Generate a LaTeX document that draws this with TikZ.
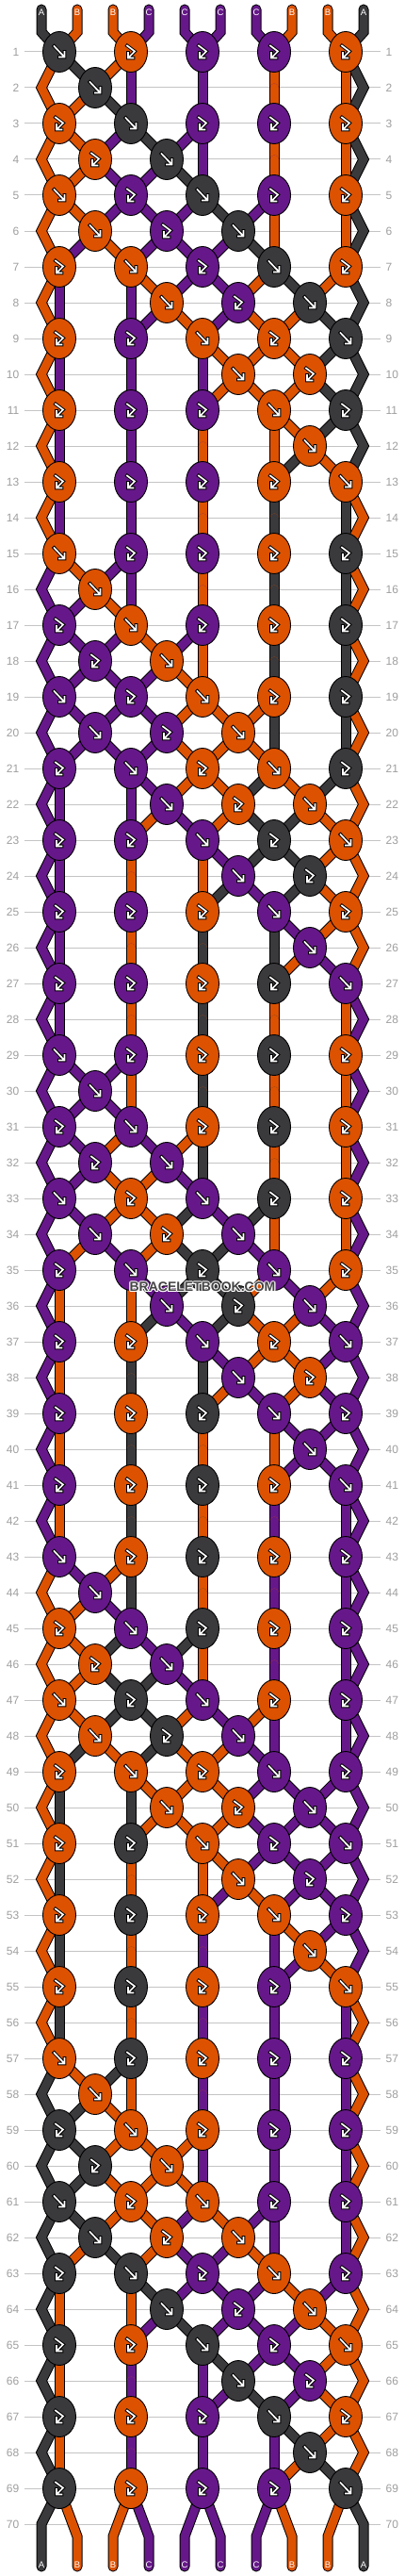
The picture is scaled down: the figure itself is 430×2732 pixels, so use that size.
\documentclass[tikz,border=0pt]{standalone}
\usepackage{fontspec}
\setmainfont{Liberation Sans}
\definecolor{cA}{HTML}{3A393C}
\definecolor{cB}{HTML}{DD5200}
\definecolor{cC}{HTML}{66188A}
\definecolor{rowgray}{HTML}{9E9E9E}
\definecolor{linegray}{HTML}{C4C4C4}
\definecolor{wmgray}{HTML}{454545}
\tikzset{
  rowline/.style={draw=linegray, line width=1pt},
  rownum/.style={text=rowgray, font=\fontsize{12}{12}\selectfont, inner sep=0pt},
  strlabel/.style={text=white, font=\fontsize{9.5}{10}\selectfont, inner sep=0pt},
  knotshape/.style={draw=black, line width=0.9pt},
  icob/.style={draw=black, line width=3.6pt, line join=miter, line cap=rect},
  icow/.style={draw=white, line width=1.7pt, line join=miter, line cap=rect},
  wmark/.style={font=\fontsize{14}{14}\selectfont\bfseries, inner sep=0pt},
}
\def\ff{f}\def\zz{0}
\def\defrow#1#2{\foreach \kv [count=\kk] in {#2}{\expandafter\xdef\csname kt#1-\kk\endcsname{\kv}}}
\defrow{1}{f,F,F,F,F}
\defrow{2}{f,0,0,0}
\defrow{3}{F,f,F,F,F}
\defrow{4}{F,f,0,0}
\defrow{5}{f,F,f,F,F}
\defrow{6}{f,F,f,0}
\defrow{7}{F,f,F,f,F}
\defrow{8}{0,f,F,f}
\defrow{9}{F,F,f,F,f}
\defrow{10}{0,0,f,F}
\defrow{11}{F,F,F,f,F}
\defrow{12}{0,0,0,f}
\defrow{13}{F,F,F,F,f}
\defrow{14}{0,0,0,0}
\def\swapcol#1#2{\edef\tmpa{\csname col#1\endcsname}\edef\tmpb{\csname col#2\endcsname}%
  \expandafter\xdef\csname col#1\endcsname{\tmpb}\expandafter\xdef\csname col#2\endcsname{\tmpa}}
\newcommand\icf[2]{\begin{scope}[shift={(#1,#2)}]
  \draw[icob] (-5.5,-6) -- (4,4) (0,5.5) -- (5.5,5.5) -- (5.5,0);
  \draw[icow] (-5.5,-6) -- (4,4) (0,5.5) -- (5.5,5.5) -- (5.5,0);
  \end{scope}}
\newcommand\ich[2]{\begin{scope}[shift={(#1,#2)}]
  \draw[icob] (-4,-6.5) -- (4,-0.5) -- (-2,5.5) (-3,1) -- (-3,6.5) -- (2.5,6.5);
  \draw[icow] (-4,-6.5) -- (4,-0.5) -- (-2,5.5) (-3,1) -- (-3,6.5) -- (2.5,6.5);
  \end{scope}}
\begin{document}
\begin{tikzpicture}[x=1pt,y=-1pt]
\useasboundingbox (0,0) rectangle (430,2732);
% initial string colours
\foreach \cc [count=\pp] in {cA,cB,cB,cC,cC,cC,cC,cB,cB,cA}{%
  \expandafter\xdef\csname col\pp\endcsname{\cc}%
  \expandafter\xdef\csname C-0-\pp\endcsname{\cc}}
% simulate the knots
\foreach \rr in {1,...,69}{%
  \pgfmathtruncatemacro\ri{mod(\rr-1,14)+1}%
  \pgfmathtruncatemacro\isodd{mod(\rr,2)}%
  \ifnum\isodd=1
    \foreach \kk in {1,...,5}{%
      \pgfmathtruncatemacro\pl{2*\kk-1}\pgfmathtruncatemacro\pr{2*\kk}%
      \pgfmathsetmacro\kx{215+76*(\kk-3)}%
      \expandafter\xdef\csname X-\rr-\pl\endcsname{\kx}%
      \expandafter\xdef\csname X-\rr-\pr\endcsname{\kx}%
      \edef\kt{\csname kt\ri-\kk\endcsname}%
      \expandafter\xdef\csname KT-\rr-\kk\endcsname{\kt}%
      \expandafter\xdef\csname KC-\rr-\kk\endcsname{\csname col\pl\endcsname}%
      \ifx\kt\ff \swapcol{\pl}{\pr}\fi
    }%
  \else
    \expandafter\xdef\csname X-\rr-1\endcsname{44}%
    \expandafter\xdef\csname X-\rr-10\endcsname{386}%
    \foreach \kk in {1,...,4}{%
      \pgfmathtruncatemacro\pl{2*\kk}\pgfmathtruncatemacro\pr{2*\kk+1}%
      \edef\kt{\csname kt\ri-\kk\endcsname}%
      \expandafter\xdef\csname KT-\rr-\kk\endcsname{\kt}%
      \ifx\kt\zz
        \pgfmathsetmacro\xa{215+76*(\kk-3)}\pgfmathsetmacro\xb{215+76*(\kk-2)}%
      \else
        \pgfmathsetmacro\xa{215+76*(\kk-2.5)}\let\xb\xa
        \expandafter\xdef\csname KC-\rr-\kk\endcsname{\csname col\pl\endcsname}%
        \ifx\kt\ff \swapcol{\pl}{\pr}\fi
      \fi
      \expandafter\xdef\csname X-\rr-\pl\endcsname{\xa}%
      \expandafter\xdef\csname X-\rr-\pr\endcsname{\xb}%
    }%
  \fi
  \foreach \pp in {1,...,10}{\expandafter\xdef\csname C-\rr-\pp\endcsname{\csname col\pp\endcsname}}%
}
% row lines and numbers
\foreach \rr in {1,...,70}{%
  \pgfmathsetmacro\yy{17+38*\rr}%
  \draw[rowline] (26,\yy) -- (404,\yy);
  \node[rownum, anchor=east] (ln\rr) at (20.5,\yy) {\rr};
  \node[rownum, anchor=west] (rn\rr) at (409.5,\yy) {\rr};
}
% strings: outline layer, then colour layer
\foreach \layer in {0,1}{%
  \foreach \pp in {1,...,10}{%
    \ifnum\layer=0 \def\sc{black}\def\sd{black}\def\sw{11pt}\else
      \edef\sc{\csname C-0-\pp\endcsname}\edef\sd{\csname C-69-\pp\endcsname}\def\sw{9pt}\fi
    \pgfmathsetmacro\xp{215+38*(\pp-5.5)}%
    \edef\xa{\csname X-1-\pp\endcsname}%
    \edef\xz{\csname X-69-\pp\endcsname}%
    \pgfmathsetmacro\yq{((\pp==1)||(\pp==10)) ? 2677 : 2690}%
    \draw[line width=\sw, draw=\sc, line cap=round, line join=miter] (\xp,10) -- (\xp,34) -- (\xa,55);
    \draw[line width=\sw, draw=\sd, line cap=round, line join=miter] (\xz,2639) -- (\xp,\yq) -- (\xp,2722);
  }%
  \foreach \rr in {1,...,68}{%
    \pgfmathtruncatemacro\rn{\rr+1}%
    \pgfmathtruncatemacro\rnn{\rr+2}%
    \pgfmathsetmacro\ya{17+38*\rr}%
    \pgfmathsetmacro\yb{\ya+38}%
    \pgfmathsetmacro\yc{\ya+76}%
    \pgfmathtruncatemacro\isodd{mod(\rr,2)}%
    \foreach \pp in {1,...,10}{%
      \ifnum\layer=0 \def\sc{black}\def\sw{11pt}\else\edef\sc{\csname C-\rr-\pp\endcsname}\def\sw{9pt}\fi
      \edef\xa{\csname X-\rr-\pp\endcsname}%
      \edef\xb{\csname X-\rn-\pp\endcsname}%
      \pgfmathtruncatemacro\edge{(\pp==1)||(\pp==10)}%
      \ifnum\edge=1
        \ifnum\isodd=1
          \edef\xc{\csname X-\rnn-\pp\endcsname}%
          \draw[line width=\sw, draw=\sc, line cap=round, line join=miter] (\xa,\ya) -- (\xb,\yb) -- (\xc,\yc);
        \fi
      \else
        \draw[line width=\sw, draw=\sc, line cap=round, line join=miter] (\xa,\ya) -- (\xb,\yb);
      \fi
    }%
  }%
}
% string letters
\foreach \lt [count=\pp] in {A,B,B,C,C,C,C,B,B,A}{%
  \pgfmathsetmacro\xp{215+38*(\pp-5.5)}%
  \node[strlabel] (tl\pp) at (\xp,13) {\lt};
  \node[strlabel] (bl\pp) at (\xp,2720) {\lt};
}
% knots
\foreach \rr in {1,...,69}{%
  \pgfmathsetmacro\ky{17+38*\rr}%
  \pgfmathtruncatemacro\isodd{mod(\rr,2)}%
  \ifnum\isodd=1 \def\nk{5}\def\koff{3}\else\def\nk{4}\def\koff{2.5}\fi
  \foreach \kk in {1,...,\nk}{%
    \edef\kt{\csname KT-\rr-\kk\endcsname}%
    \ifx\kt\zz\else
      \pgfmathsetmacro\kx{215+76*(\kk-\koff)}%
      \edef\kc{\csname KC-\rr-\kk\endcsname}%
      \path[knotshape, fill=\kc] (\kx,\ky) ellipse [x radius=17.5pt, y radius=21.5pt];
      \ifx\kt\ff \icf{\kx}{\ky}\else \ich{\kx}{\ky}\fi
    \fi
  }%
}
% watermark
\foreach \dx/\dy in {-1/0,1/0,0/-1,0/1,-0.8/-0.8,0.8/0.8,-0.8/0.8,0.8/-0.8}{%
  \node[wmark, text=white] at (215+\dx,1365+\dy) {BRACELETBOOK.COM};
}
\node[wmark, text=wmgray] (wm) at (215,1365) {BRACELETBOOK.COM};
\end{tikzpicture}
\end{document}
